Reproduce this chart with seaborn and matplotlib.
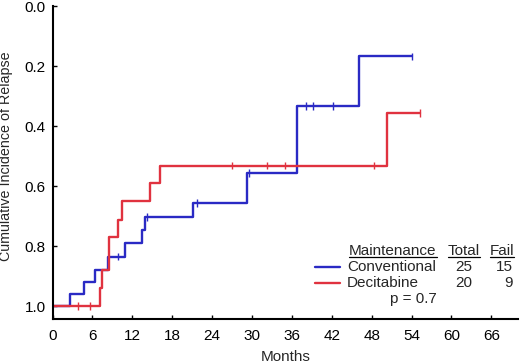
import numpy as np
import pandas as pd
import matplotlib
matplotlib.use("Agg")
import matplotlib.pyplot as plt
from matplotlib.lines import Line2D
import seaborn as sns

# step curves (months, plotted level)
CONV_TIMES = [0, 2.7, 4.7, 6.4, 8.4, 10.9, 13.4, 13.9, 21.2, 29.3, 36.7, 46.1, 54.0]
CONV_VALS = [1.0, 0.96, 0.92, 0.88, 0.835, 0.79, 0.748, 0.704, 0.657, 0.556, 0.334, 0.168, 0.168]
CONV_CENSOR = [9.9, 14.2, 21.7, 29.5, 38.1, 39.2, 42.2, 54.0]

DEC_TIMES = [0, 7.1, 7.5, 8.5, 9.9, 10.4, 14.7, 16.2, 50.3, 55.3]
DEC_VALS = [1.0, 0.94, 0.88, 0.77, 0.713, 0.65, 0.59, 0.532, 0.356, 0.356]
DEC_CENSOR = [3.9, 5.6, 27.0, 32.3, 34.9, 48.3, 55.3]

GROUPS = ["Conventional", "Decitabine"]
TOTALS = [25, 20]
FAILS = [15, 9]
P_TEXT = "p = 0.7"
X_TICKS = list(range(0, 67, 6))
Y_TICKS = [0.0, 0.2, 0.4, 0.6, 0.8, 1.0]

COLORS = {"Conventional": "#2a2ac4", "Decitabine": "#e0323f"}


def level_at(times, vals, t):
    idx = np.searchsorted(times, t, side="right") - 1
    return vals[idx]


curves = pd.concat([
    pd.DataFrame({"month": CONV_TIMES, "value": CONV_VALS, "group": "Conventional"}),
    pd.DataFrame({"month": DEC_TIMES, "value": DEC_VALS, "group": "Decitabine"}),
])
censors = pd.concat([
    pd.DataFrame({"month": CONV_CENSOR,
                  "value": [level_at(CONV_TIMES, CONV_VALS, t) for t in CONV_CENSOR],
                  "group": "Conventional"}),
    pd.DataFrame({"month": DEC_CENSOR,
                  "value": [level_at(DEC_TIMES, DEC_VALS, t) for t in DEC_CENSOR],
                  "group": "Decitabine"}),
])

sns.set_theme(style="ticks")
plt.rcParams["font.family"] = ["Liberation Sans", "DejaVu Sans"]

fig = plt.figure(figsize=(5.2, 3.63), dpi=100)
ax = fig.add_axes([0.101, 0.1204, 0.895, 0.863])

sns.lineplot(data=curves, x="month", y="value", hue="group", palette=COLORS,
             drawstyle="steps-post", estimator=None, sort=False, linewidth=1.7,
             legend=False, ax=ax)
sns.scatterplot(data=censors, x="month", y="value", hue="group", palette=COLORS,
                marker="|", s=30, linewidth=1.0, legend=False, ax=ax, zorder=3)

ax.set_xlim(0, 70)
ax.set_ylim(1.044, 0.0)
ax.set_xticks(X_TICKS)
ax.set_yticks(Y_TICKS)
ax.set_yticklabels([f"{v:.1f}" for v in Y_TICKS])
ax.tick_params(direction="in", length=3, width=1, labelsize=11, colors="black")
ax.tick_params(axis="x", pad=7)
ax.tick_params(axis="y", pad=5)
for side in ["top", "right"]:
    ax.spines[side].set_visible(False)
for side in ["left", "bottom"]:
    ax.spines[side].set_linewidth(1.5)
    ax.spines[side].set_color("black")
ax.set_xlabel("Months", fontsize=11, labelpad=5)
ax.set_ylabel("Cumulative Incidence of Relapse", fontsize=10.3)
ax.yaxis.set_label_coords(-0.084, 0.52)

# table-like legend in the lower right
W, H = 520, 363
fs = 11


def fx(px):
    return px / W


def fy(py):
    return 1 - py / H


headers = [("Maintenance", 349, "left"), ("Total", 480, "right"), ("Fail", 514, "right")]
texts = []
for label, px, ha in headers:
    texts.append(fig.text(fx(px), fy(251), label, ha=ha, va="center", fontsize=fs))

row_y = [267, 283]
for grp, tot, fail, ry in zip(GROUPS, TOTALS, FAILS, row_y):
    fig.add_artist(Line2D([fx(315), fx(340)], [fy(ry), fy(ry)], color=COLORS[grp],
                          lw=1.7, transform=fig.transFigure))
    fig.text(fx(347), fy(ry), grp, ha="left", va="center", fontsize=fs)
    fig.text(fx(472), fy(ry), str(tot), ha="right", va="center", fontsize=fs)
    fig.text(fx(513), fy(ry), str(fail), ha="right", va="center", fontsize=fs)
fig.text(fx(437), fy(299), P_TEXT, ha="right", va="center", fontsize=fs)

# underline headers
fig.canvas.draw()
renderer = fig.canvas.get_renderer()
for t in texts:
    bb = t.get_window_extent(renderer).transformed(fig.transFigure.inverted())
    fig.add_artist(Line2D([bb.x0, bb.x1], [bb.y0 + 0.004, bb.y0 + 0.004], color="black",
                          lw=0.9, transform=fig.transFigure))

fig.savefig("out.png", dpi=100)
